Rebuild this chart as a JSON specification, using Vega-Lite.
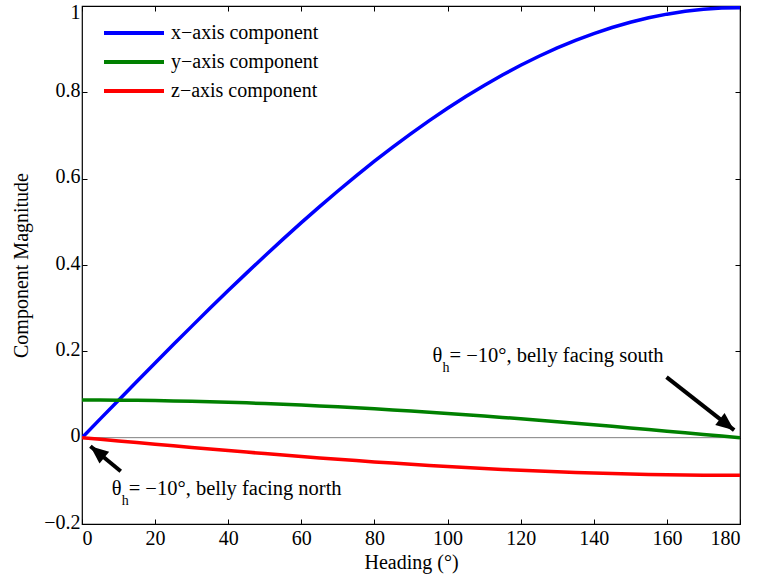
{
  "$schema": "https://vega.github.io/schema/vega-lite/v6.json",
  "width": 658,
  "height": 518,
  "autosize": {"type": "none"},
  "padding": {"left": 82, "top": 6, "right": 17, "bottom": 55},
  "background": "white",
  "datasets": {
    "series": [
      {"h": 0, "x": 0, "y": 0.0872, "z": 0},
      {"h": 5, "x": 0.0435, "y": 0.0871, "z": -0.0038},
      {"h": 10, "x": 0.0868, "y": 0.0869, "z": -0.0076},
      {"h": 15, "x": 0.13, "y": 0.0865, "z": -0.0114},
      {"h": 20, "x": 0.173, "y": 0.0859, "z": -0.0151},
      {"h": 25, "x": 0.2156, "y": 0.0851, "z": -0.0189},
      {"h": 30, "x": 0.2578, "y": 0.0842, "z": -0.0226},
      {"h": 35, "x": 0.2996, "y": 0.0832, "z": -0.0262},
      {"h": 40, "x": 0.3407, "y": 0.0819, "z": -0.0298},
      {"h": 45, "x": 0.3812, "y": 0.0806, "z": -0.0334},
      {"h": 50, "x": 0.421, "y": 0.079, "z": -0.0369},
      {"h": 55, "x": 0.46, "y": 0.0773, "z": -0.0403},
      {"h": 60, "x": 0.4981, "y": 0.0755, "z": -0.0436},
      {"h": 65, "x": 0.5353, "y": 0.0735, "z": -0.0469},
      {"h": 70, "x": 0.5714, "y": 0.0714, "z": -0.05},
      {"h": 75, "x": 0.6065, "y": 0.0692, "z": -0.0531},
      {"h": 80, "x": 0.6404, "y": 0.0668, "z": -0.0561},
      {"h": 85, "x": 0.673, "y": 0.0643, "z": -0.0589},
      {"h": 90, "x": 0.7044, "y": 0.0617, "z": -0.0617},
      {"h": 95, "x": 0.7345, "y": 0.0589, "z": -0.0643},
      {"h": 100, "x": 0.7631, "y": 0.0561, "z": -0.0668},
      {"h": 105, "x": 0.7903, "y": 0.0531, "z": -0.0692},
      {"h": 110, "x": 0.816, "y": 0.05, "z": -0.0714},
      {"h": 115, "x": 0.8402, "y": 0.0469, "z": -0.0735},
      {"h": 120, "x": 0.8627, "y": 0.0436, "z": -0.0755},
      {"h": 125, "x": 0.8836, "y": 0.0403, "z": -0.0773},
      {"h": 130, "x": 0.9029, "y": 0.0369, "z": -0.079},
      {"h": 135, "x": 0.9204, "y": 0.0334, "z": -0.0806},
      {"h": 140, "x": 0.9361, "y": 0.0298, "z": -0.0819},
      {"h": 145, "x": 0.9501, "y": 0.0262, "z": -0.0832},
      {"h": 150, "x": 0.9623, "y": 0.0226, "z": -0.0842},
      {"h": 155, "x": 0.9726, "y": 0.0189, "z": -0.0851},
      {"h": 160, "x": 0.9811, "y": 0.0151, "z": -0.0859},
      {"h": 165, "x": 0.9877, "y": 0.0114, "z": -0.0865},
      {"h": 170, "x": 0.9924, "y": 0.0076, "z": -0.0869},
      {"h": 175, "x": 0.9953, "y": 0.0038, "z": -0.0871},
      {"h": 180, "x": 0.9962, "y": 0, "z": -0.0872}
    ],
    "arrows": [
      {"id": "north", "h": 10.6, "v": -0.0777, "h2": 2.3, "v2": -0.0197},
      {"id": "south", "h": 159.9, "v": 0.1404, "h2": 178.4, "v2": 0.0174}
    ],
    "notes": [
      {"id": "north", "h": 8.12, "v": -0.1334, "rest": " = \u221210\u00b0, belly facing north"},
      {"id": "south", "h": 95.88, "v": 0.1752, "rest": " = \u221210\u00b0, belly facing south"}
    ]
  },
  "layer": [
    {
      "layer": [
        {
          "data": {"values": [{"zero": 0}]},
          "mark": {"type": "rule", "color": "#808080", "strokeWidth": 1},
          "encoding": {
            "y": {"field": "zero", "type": "quantitative", "scale": {"domain": [-0.2, 1], "nice": false, "zero": false}}
          }
        },
        {
          "data": {"name": "series"},
          "transform": [{"fold": ["x", "y", "z"], "as": ["comp", "value"]}],
          "mark": {"type": "line", "strokeWidth": 3.5, "clip": true},
          "encoding": {
            "x": {"field": "h", "type": "quantitative", "scale": {"domain": [0, 180], "nice": false, "zero": false},
                  "axis": {"values": [0, 20, 40, 60, 80, 100, 120, 140, 160, 180], "title": "Heading (\u00b0)"}},
            "y": {"field": "value", "type": "quantitative", "scale": {"domain": [-0.2, 1], "nice": false, "zero": false},
                  "axis": {"values": [-0.2, 0, 0.2, 0.4, 0.6, 0.8, 1], "format": ".1~f", "title": "Component Magnitude",
                           "labelBaseline": {"condition": {"test": "datum.value == 1", "value": "top"}, "value": "middle"},
                           "labelOffset": {"condition": {"test": "datum.value == 1", "value": -4}, "value": -2}}},
            "color": {
              "field": "comp", "type": "nominal",
              "scale": {"domain": ["x", "y", "z"], "range": ["#0000ff", "#008000", "#ff0000"]},
              "legend": {
                "title": null,
                "orient": "none",
                "legendX": 20,
                "legendY": 12.5,
                "padding": 0,
                "symbolType": "stroke",
                "symbolSize": 3600,
                "symbolStrokeWidth": 4,
                "clipHeight": 29,
                "rowPadding": 0,
                "labelOffset": 5,
                "labelFontSize": 20,
                "labelFont": "Liberation Serif",
                "labelColor": "#000",
                "labelLimit": 300,
                "labelExpr": "{'x': 'x\u2212axis component', 'y': 'y\u2212axis component', 'z': 'z\u2212axis component'}[datum.label]"
              }
            },
            "order": {"field": "h", "type": "quantitative"}
          }
        },
        {
          "data": {"name": "arrows"},
          "mark": {"type": "rule", "color": "#000", "strokeWidth": 4},
          "encoding": {
            "x": {"field": "h", "type": "quantitative"},
            "y": {"field": "v", "type": "quantitative"},
            "x2": {"field": "h2"},
            "y2": {"field": "v2"}
          }
        },
        {
          "data": {"name": "arrows"},
          "transform": [{"filter": "datum.id == 'north'"}],
          "mark": {"type": "point", "shape": "M0,0L-0.42,1L0.42,1Z", "filled": true, "color": "#000", "opacity": 1, "size": 1300, "angle": 309.5},
          "encoding": {
            "x": {"field": "h2", "type": "quantitative"},
            "y": {"field": "v2", "type": "quantitative"}
          }
        },
        {
          "data": {"name": "arrows"},
          "transform": [{"filter": "datum.id == 'south'"}],
          "mark": {"type": "point", "shape": "M0,0L-0.42,1L0.42,1Z", "filled": true, "color": "#000", "opacity": 1, "size": 1300, "angle": 127.9},
          "encoding": {
            "x": {"field": "h2", "type": "quantitative"},
            "y": {"field": "v2", "type": "quantitative"}
          }
        },
        {
          "data": {"name": "notes"},
          "mark": {"type": "text", "text": "\u03b8", "align": "left", "baseline": "alphabetic", "fontSize": 20.5, "font": "Liberation Serif", "color": "#000"},
          "encoding": {
            "x": {"field": "h", "type": "quantitative"},
            "y": {"field": "v", "type": "quantitative"}
          }
        },
        {
          "data": {"name": "notes"},
          "mark": {"type": "text", "text": "h", "align": "left", "baseline": "alphabetic", "fontSize": 14, "font": "Liberation Serif", "color": "#000", "dx": 10, "dy": 10},
          "encoding": {
            "x": {"field": "h", "type": "quantitative"},
            "y": {"field": "v", "type": "quantitative"}
          }
        },
        {
          "data": {"name": "notes"},
          "mark": {"type": "text", "align": "left", "baseline": "alphabetic", "fontSize": 20.5, "font": "Liberation Serif", "color": "#000", "dx": 17},
          "encoding": {
            "x": {"field": "h", "type": "quantitative"},
            "y": {"field": "v", "type": "quantitative"},
            "text": {"field": "rest"}
          }
        }
      ]
    },
    {
      "data": {"name": "series"},
      "mark": {"type": "point", "opacity": 0},
      "encoding": {
        "x": {"field": "h", "type": "quantitative", "scale": {"domain": [0, 180], "nice": false, "zero": false},
              "axis": {"orient": "top", "values": [0, 20, 40, 60, 80, 100, 120, 140, 160, 180], "labels": false, "title": null}},
        "y": {"field": "x", "type": "quantitative", "scale": {"domain": [-0.2, 1], "nice": false, "zero": false},
              "axis": {"orient": "right", "values": [-0.2, 0, 0.2, 0.4, 0.6, 0.8, 1], "labels": false, "title": null}}
      }
    }
  ],
  "resolve": {"axis": {"x": "independent", "y": "independent"}},
  "config": {
    "font": "Liberation Serif",
    "view": {"stroke": "#000", "strokeWidth": 1.2},
    "axis": {
      "domain": false,
      "grid": false,
      "ticks": true,
      "tickColor": "#000",
      "tickSize": -5,
      "tickWidth": 1,
      "labelColor": "#000",
      "labelFont": "Liberation Serif",
      "labelFontSize": 20,
      "labelPadding": 7,
      "titleColor": "#000",
      "titleFont": "Liberation Serif",
      "titleFontSize": 20,
      "titleFontWeight": "normal",
      "titlePadding": 8
    },
    "axisX": {"labelPadding": 9, "titlePadding": 4},
    "axisY": {"titlePadding": 12}
  }
}
